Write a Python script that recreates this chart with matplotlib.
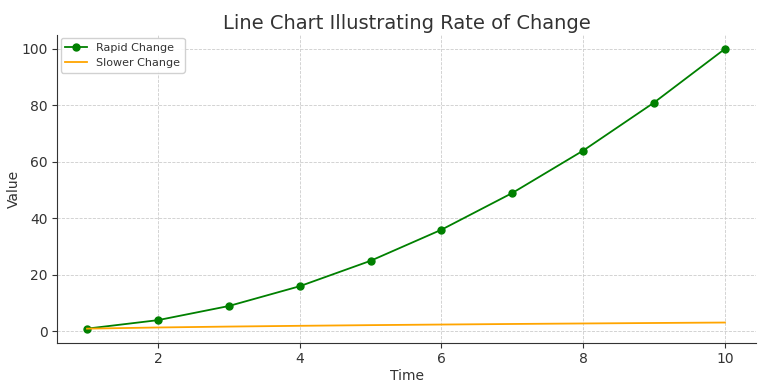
import matplotlib.pyplot as plt

time = [1, 2, 3, 4, 5, 6, 7, 8, 9, 10]
rapid_change = [1, 4, 9, 16, 25, 36, 49, 64, 81, 100]
slower_change = [1.0, 1.41, 1.73, 2.0, 2.24, 2.45, 2.65, 2.83, 3.0, 3.16]

fig = plt.figure(figsize=(7.63, 3.86), dpi=100)
ax = fig.add_axes([0.075, 0.112, 0.916, 0.798])

ax.plot(time, rapid_change, color='green', marker='o', markersize=5, linewidth=1.3, label='Rapid Change')
ax.plot(time, slower_change, color='orange', linewidth=1.3, label='Slower Change')

ax.set_title('Line Chart Illustrating Rate of Change', fontsize=14, color='#333333', pad=4)
ax.set_xlabel('Time', fontsize=10, color='#333333', labelpad=2)
ax.set_ylabel('Value', fontsize=10, color='#333333', labelpad=0)
ax.set_xticks([2, 4, 6, 8, 10])
ax.set_yticks([0, 20, 40, 60, 80, 100])
ax.tick_params(labelsize=10, colors='#333333')
ax.set_xlim(0.58, 10.44)
ax.set_ylim(-4, 105)

ax.grid(True, linestyle='--', linewidth=0.6, color='#cccccc')
ax.spines['top'].set_visible(False)
ax.spines['right'].set_visible(False)
ax.spines['left'].set_color('#333333')
ax.spines['bottom'].set_color('#333333')

leg = ax.legend(loc='upper left', fontsize=8, framealpha=0.9, borderaxespad=0.3)
for t in leg.get_texts():
    t.set_color('#333333')

fig.savefig('out.png', dpi=100)
